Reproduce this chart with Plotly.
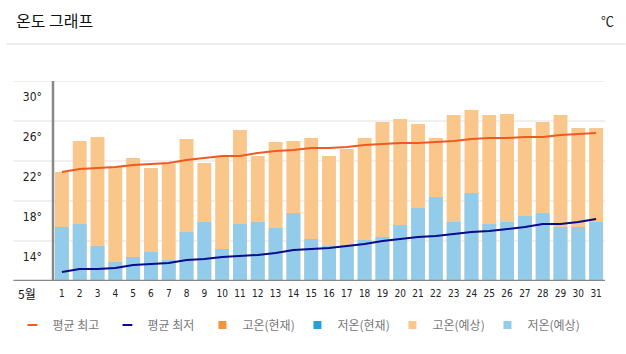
import plotly.graph_objects as go

days = list(range(1, 32))
day_labels = [str(d) for d in days]
high_fc = [20.9, 24.0, 24.4, 21.4, 22.3, 21.3, 21.7, 24.2, 21.8, 22.4,
           25.1, 22.5, 23.9, 24.0, 24.3, 22.5, 23.2, 24.3, 25.9, 26.2,
           25.7, 24.3, 26.6, 27.1, 26.6, 26.7, 25.3, 25.9, 26.6, 25.3, 25.3]
low_fc = [15.4, 15.7, 13.5, 11.9, 12.4, 12.9, 12.1, 14.9, 15.9, 13.2,
          15.7, 15.9, 15.3, 16.8, 14.2, 13.5, 13.6, 14.1, 14.4, 15.6,
          17.3, 18.4, 15.9, 18.8, 15.7, 15.9, 16.5, 16.8, 15.4, 15.4, 15.9]
avg_high = [20.9, 21.2, 21.3, 21.4, 21.6, 21.7, 21.8, 22.1, 22.3, 22.5,
            22.5, 22.8, 23.0, 23.1, 23.3, 23.3, 23.4, 23.6, 23.7, 23.8,
            23.8, 23.9, 24.0, 24.2, 24.3, 24.3, 24.4, 24.4, 24.6, 24.7, 24.8]
avg_low = [10.9, 11.2, 11.2, 11.3, 11.6, 11.7, 11.8, 12.1, 12.2, 12.4,
           12.5, 12.6, 12.8, 13.1, 13.2, 13.3, 13.5, 13.7, 14.0, 14.2,
           14.4, 14.5, 14.7, 14.9, 15.0, 15.2, 15.4, 15.7, 15.7, 15.9, 16.2]
y_ticks = [14, 18, 22, 26, 30]
y_tick_labels = ["14°", "18°", "22°", "26°", "30°"]
y_min, y_max = 10, 30
month_label = "5월"
title_text = "온도 그래프"
unit_text = "℃"

C_AVG_HIGH = "#F05A1E"
C_AVG_LOW = "#0A0A8C"
C_HIGH_NOW = "#F5923E"
C_LOW_NOW = "#2A9FD6"
C_HIGH_FC = "#F9C78C"
C_LOW_FC = "#93CCEA"

KR = "Noto Sans CJK KR, Noto Sans, sans-serif"
NARROW = "Liberation Sans Narrow, DejaVu Sans Condensed, Roboto, sans-serif"

fig = go.Figure()
fig.add_trace(go.Bar(x=days, y=high_fc, width=0.78, marker=dict(color=C_HIGH_FC, line=dict(width=0)),
                     showlegend=False, hoverinfo="skip"))
fig.add_trace(go.Bar(x=days, y=low_fc, width=0.78, marker=dict(color=C_LOW_FC, line=dict(width=0)),
                     showlegend=False, hoverinfo="skip"))
fig.add_trace(go.Scatter(x=days, y=avg_high, mode="lines", line=dict(color=C_AVG_HIGH, width=2),
                         showlegend=False))
fig.add_trace(go.Scatter(x=days, y=avg_low, mode="lines", line=dict(color=C_AVG_LOW, width=2),
                         showlegend=False))

# legend entries
legend_items = [
    ("평균 최고", C_AVG_HIGH, "line-ew-open"),
    ("평균 최저", C_AVG_LOW, "line-ew-open"),
    ("고온(현재)", C_HIGH_NOW, "square"),
    ("저온(현재)", C_LOW_NOW, "square"),
    ("고온(예상)", C_HIGH_FC, "square"),
    ("저온(예상)", C_LOW_FC, "square"),
]
for name, col, sym in legend_items:
    if sym == "square":
        mk = dict(symbol=sym, size=8, color=col, line=dict(width=0))
    else:
        mk = dict(symbol=sym, size=7, color=col, line=dict(width=2, color=col))
    fig.add_trace(go.Scatter(x=[None], y=[None], mode="markers", name=name, marker=mk))

L, R, T, B = 47, 21, 81, 73
W, H = 626, 354
pw, ph = W - L - R, H - T - B

def px_x(p):
    return (p - L) / pw

def px_y(p):
    return (H - B - p) / ph

shapes = []
for v in y_ticks:
    shapes.append(dict(type="line", xref="paper", yref="y", x0=px_x(7), x1=1, y0=v, y1=v,
                       line=dict(color="#EBEBEB", width=1.5), layer="below"))
shapes.append(dict(type="line", xref="paper", yref="y", x0=px_x(7), x1=1, y0=y_min, y1=y_min,
                   line=dict(color="#888888", width=2.5), layer="above"))
shapes.append(dict(type="line", xref="paper", yref="paper", x0=0, x1=0, y0=0, y1=1,
                   line=dict(color="#888888", width=2.5), layer="above"))
shapes.append(dict(type="line", xref="paper", yref="paper", x0=px_x(0), x1=px_x(W), y0=px_y(44), y1=px_y(44),
                   line=dict(color="#DDDDDD", width=1)))

annotations = [
    dict(text=title_text, xref="paper", yref="paper", x=px_x(8), y=px_y(20), xanchor="left",
         yanchor="middle", showarrow=False, font=dict(family=KR, size=16, color="#111111")),
    dict(text=unit_text, xref="paper", yref="paper", x=px_x(616), y=px_y(20), xanchor="right",
         yanchor="middle", showarrow=False, font=dict(family=KR, size=13, color="#222222")),
    dict(text=month_label, xref="paper", yref="paper", x=px_x(10), y=px_y(293), xanchor="left",
         yanchor="middle", showarrow=False, font=dict(family=KR, size=12, color="#111111")),
]

fig.update_layout(
    width=W, height=H,
    margin=dict(l=L, r=R, t=T, b=B, pad=0),
    paper_bgcolor="white", plot_bgcolor="white",
    barmode="overlay", bargap=0.22,
    shapes=shapes, annotations=annotations,
    xaxis=dict(range=[0.5, 31.5], tickmode="array", tickvals=days, ticktext=day_labels,
               showgrid=False, zeroline=False, showline=False, ticks="",
               ticklabelstandoff=5,
               tickfont=dict(family=NARROW, size=10, color="#222222"), fixedrange=True),
    yaxis=dict(range=[y_min, y_max], tickmode="array", tickvals=y_ticks, ticktext=y_tick_labels,
               showgrid=False, zeroline=False, showline=False, ticks="",
               ticklabelshift=16, ticklabelstandoff=10,
               tickfont=dict(family=NARROW, size=12, color="#222222"), fixedrange=True),
    legend=dict(orientation="h", x=px_x(6), y=px_y(325), xanchor="left", yanchor="middle",
                font=dict(family=KR, size=12, color="#777777"), itemwidth=30,
                entrywidth=50, entrywidthmode="pixels", bgcolor="rgba(0,0,0,0)"),
    showlegend=True,
)

fig.write_html("out.html", config={"displayModeBar": False})
